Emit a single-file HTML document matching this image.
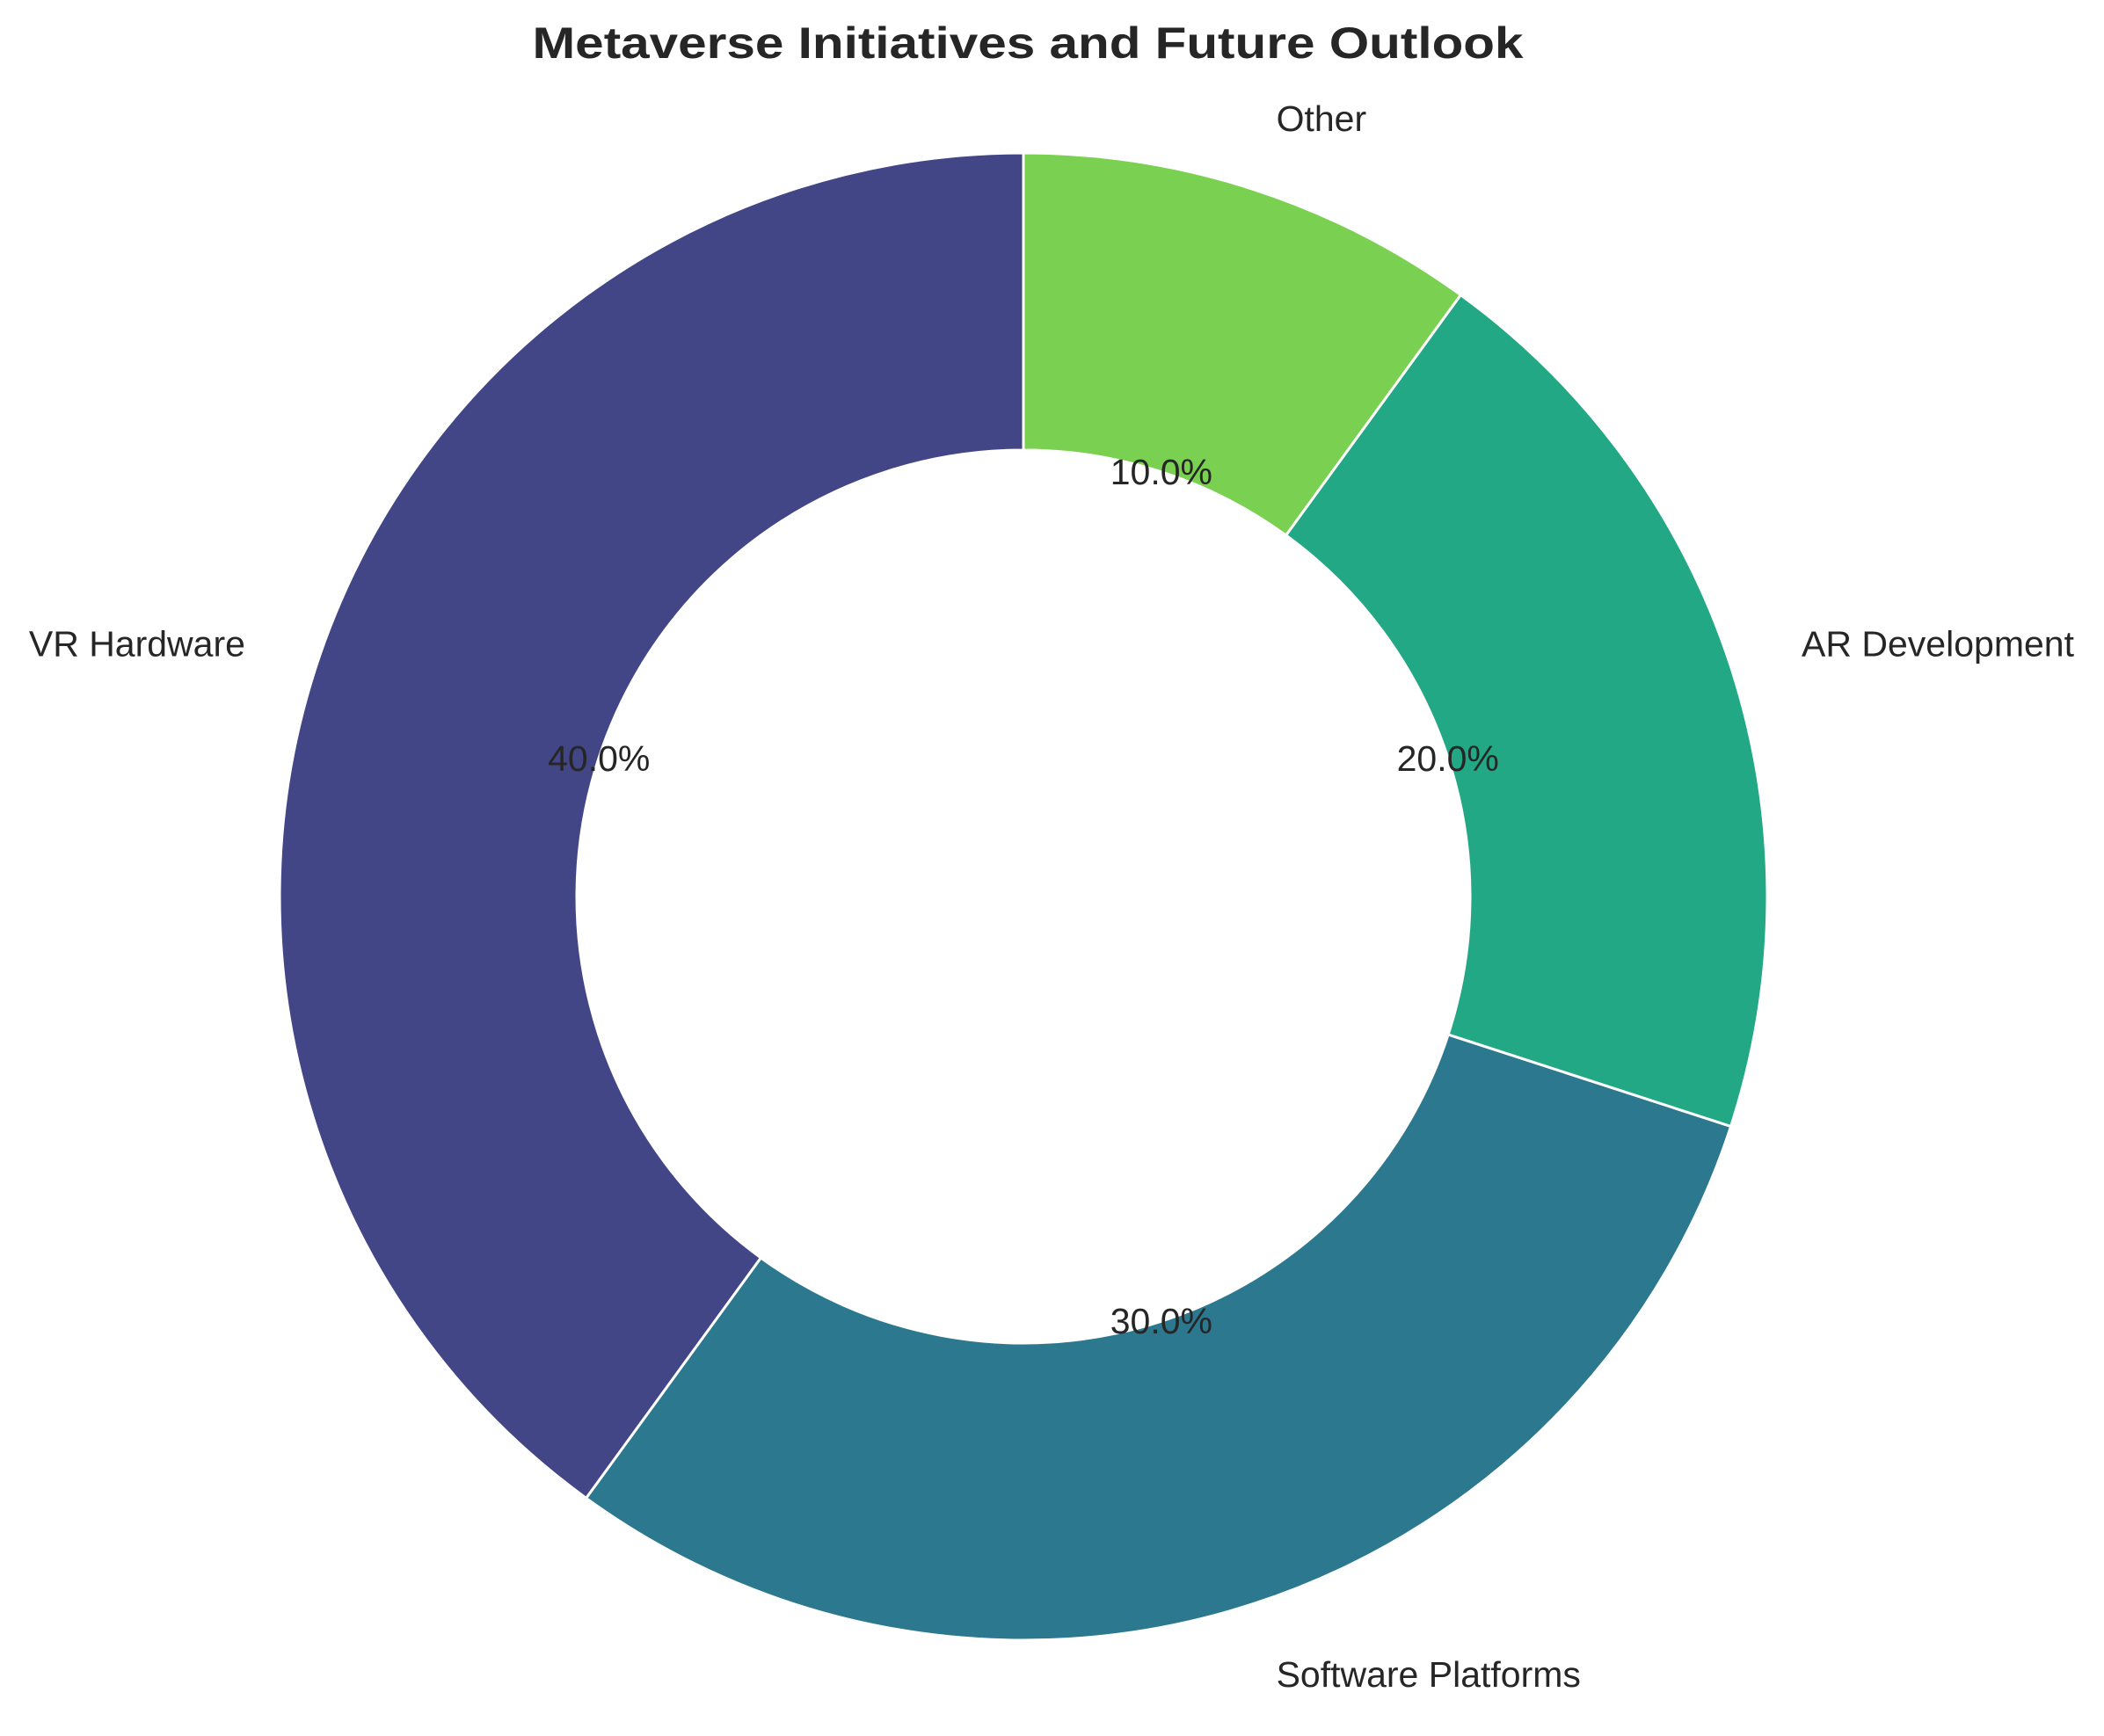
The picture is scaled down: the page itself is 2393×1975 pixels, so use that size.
<!DOCTYPE html>
<html><head><meta charset="utf-8"><style>html,body{margin:0;padding:0;background:#fff}svg{display:block}text{font-family:"Liberation Sans",Arial,sans-serif;fill:#262626}</style></head>
<body>
<svg id="chart" width="2393" height="1975" viewBox="0 0 2393 1975" xmlns="http://www.w3.org/2000/svg">
<text x="1169" y="66" text-anchor="middle" font-size="50" font-weight="bold" textLength="1127" lengthAdjust="spacingAndGlyphs">Metaverse Initiatives and Future Outlook</text>
<g id="slices"></g>
</svg>
<script>
const categories = ["VR Hardware", "Software Platforms", "AR Development", "Other"];
const values = [40, 30, 20, 10];
const colors = ["#424586", "#2c788e", "#22a884", "#7ad151"];
const pctLabels = ["40.0%", "30.0%", "20.0%", "10.0%"];

const cx = 1164, cy = 1020, R = 846, r = 508;
const NS = "http://www.w3.org/2000/svg";
const g = document.getElementById("slices");
const total = values.reduce((a, b) => a + b, 0);
function pt(rad, deg) { const a = deg * Math.PI / 180; return [cx + rad * Math.cos(a), cy - rad * Math.sin(a)]; }
let start = 90;
values.forEach((v, i) => {
  const sweep = v / total * 360, end = start + sweep;
  const large = sweep > 180 ? 1 : 0;
  const [x1, y1] = pt(R, start), [x2, y2] = pt(R, end), [x3, y3] = pt(r, end), [x4, y4] = pt(r, start);
  const p = document.createElementNS(NS, "path");
  p.setAttribute("d", `M${x1},${y1} A${R},${R} 0 ${large} 0 ${x2},${y2} L${x3},${y3} A${r},${r} 0 ${large} 1 ${x4},${y4} Z`);
  p.setAttribute("fill", colors[i]);
  p.setAttribute("stroke", "#fff");
  p.setAttribute("stroke-width", "3");
  
  
  g.appendChild(p);
  const mid = start + sweep / 2;
  const [lx, ly] = pt(R * 1.1, mid);
  const t = document.createElementNS(NS, "text");
  t.setAttribute("x", lx); t.setAttribute("y", ly);
  t.setAttribute("font-size", "41");
  t.setAttribute("dominant-baseline", "central");
  t.setAttribute("text-anchor", Math.cos(mid * Math.PI / 180) < 0 ? "end" : "start");
  t.textContent = categories[i];
  
  
  g.appendChild(t);
  const [px, py] = pt(R * 0.6, mid);
  const q = document.createElementNS(NS, "text");
  q.setAttribute("x", px); q.setAttribute("y", py);
  q.setAttribute("font-size", "41");
  q.setAttribute("dominant-baseline", "central");
  q.setAttribute("text-anchor", "middle");
  q.textContent = pctLabels[i];
  
  
  g.appendChild(q);
  start = end;
});
</script>
</body></html>
